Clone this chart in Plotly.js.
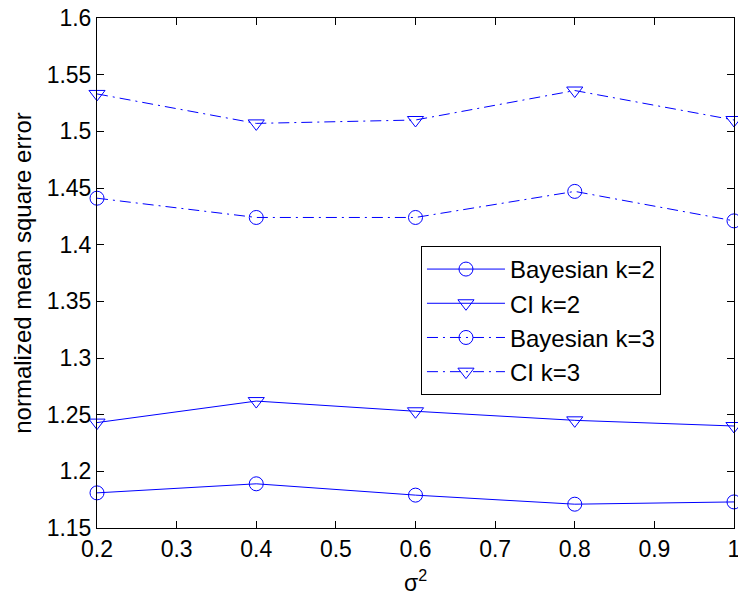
<!DOCTYPE html>
<html>
<head>
<meta charset="utf-8">
<script src="https://cdn.plot.ly/plotly-3.0.1.min.js"></script>
<style>
  html, body { margin: 0; padding: 0; background: #fff; }
  #chart { width: 738px; height: 596px; }
</style>
</head>
<body>
<div id="chart"></div>
<script>
const sigma2 = [0.2, 0.4, 0.6, 0.8, 1.0];
const bayesK2 = [1.181, 1.189, 1.179, 1.171, 1.173];
const ciK2 = [1.243, 1.262, 1.253, 1.245, 1.240];
const bayesK3 = [1.441, 1.424, 1.424, 1.447, 1.421];
const ciK3 = [1.533, 1.507, 1.510, 1.536, 1.510];

const xTickVals = [0.2, 0.3, 0.4, 0.5, 0.6, 0.7, 0.8, 0.9, 1.0];
const xTickText = ['0.2', '0.3', '0.4', '0.5', '0.6', '0.7', '0.8', '0.9', '1'];
const yTickVals = [1.15, 1.2, 1.25, 1.3, 1.35, 1.4, 1.45, 1.5, 1.55, 1.6];
const yTickText = ['1.15', '1.2', '1.25', '1.3', '1.35', '1.4', '1.45', '1.5', '1.55', '1.6'];

const blue = '#0000ff';
const dashDot = '11px,5px,2px,5px';
const FONT = 'Liberation Sans, Arial, Helvetica, sans-serif';

function series(name, y, symbol, dash) {
  return {
    x: sigma2, y: y, name: name, type: 'scatter', mode: 'lines+markers',
    line: { color: blue, width: 1, dash: dash },
    marker: { symbol: symbol, size: 14, color: blue, line: { color: blue, width: 1 } },
    cliponaxis: false
  };
}

const data = [
  series('Bayesian k=2', bayesK2, 'circle-open', 'solid'),
  series('CI k=2', ciK2, 'triangle-down-open', 'solid'),
  series('Bayesian k=3', bayesK3, 'circle-open', dashDot),
  series('CI k=3', ciK3, 'triangle-down-open', dashDot)
];

const axisCommon = {
  showgrid: false, zeroline: false,
  showline: true, linecolor: '#000', linewidth: 1,
  mirror: 'ticks', ticks: 'inside', ticklen: 7, tickcolor: '#000', tickwidth: 1,
  tickfont: { family: FONT, size: 23, color: '#000' },
  tickmode: 'array', ticklabeloverflow: 'allow'
};

const layout = {
  width: 738, height: 596,
  margin: { l: 97, r: 4, t: 18, b: 68 },
  paper_bgcolor: '#fff', plot_bgcolor: '#fff',
  font: { family: FONT, size: 23, color: '#000' },
  xaxis: Object.assign({}, axisCommon, {
    range: [0.19999, 1.00001], tickvals: xTickVals, ticktext: xTickText,
    title: { text: 'σ<sup>2</sup>', font: { family: FONT, size: 23, color: '#000' }, standoff: 15 },
    automargin: false
  }),
  yaxis: Object.assign({}, axisCommon, {
    range: [1.15, 1.6], tickvals: yTickVals, ticktext: yTickText,
    title: { text: 'normalized mean square error', font: { family: FONT, size: 24, color: '#000' }, standoff: 8 },
    automargin: false
  }),
  showlegend: true,
  legend: {
    x: 0.5086, y: 0.553, xanchor: 'left', yanchor: 'top',
    bgcolor: '#fff', bordercolor: '#000', borderwidth: 1,
    font: { family: FONT, size: 24, color: '#000' },
    itemwidth: 78, tracegroupgap: 0
  }
};

Plotly.newPlot('chart', data, layout, { staticPlot: true, displayModeBar: false });
</script>
</body>
</html>
